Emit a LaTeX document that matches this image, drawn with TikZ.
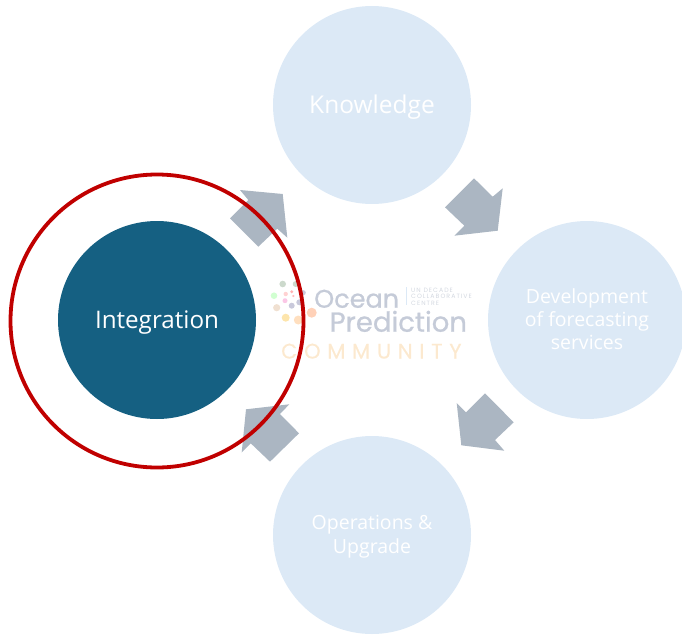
\documentclass[tikz,border=0pt]{standalone}
\usepackage{fontspec}
\setmainfont{Open Sans}
\newfontfamily\logofont{Poppins}
\definecolor{paleblue}{HTML}{DCE9F6}
\definecolor{deepblue}{HTML}{156082}
\definecolor{arrowgrey}{HTML}{ABB6C2}
\definecolor{ringred}{HTML}{C00000}
\definecolor{logogrey}{HTML}{C5CBD8}
\definecolor{logosmall}{HTML}{D3D8E0}
\definecolor{logoorange}{HTML}{FCE9CF}
\tikzset{
  x=1pt,y=-1pt,
  phase/.style={circle,minimum size=198pt,inner sep=0pt,fill=paleblue},
  phaselabel/.style={inner sep=0pt,text=white,align=center},
  blockarrow/.style={fill=arrowgrey,draw=none},
  dot/.style={fill=#1,draw=none},
  logotext/.style={inner sep=0pt,anchor=base west,text=logogrey},
  logosub/.style={inner sep=0pt,anchor=base west,text=logosmall,font=\logofont\fontsize{6.2}{6.5}\selectfont\addfontfeature{LetterSpace=17}},
}
\begin{document}
\begin{tikzpicture}
\useasboundingbox (0,0) rectangle (682,634);
% logo
\fill[dot=green!15!gray!35] (282.7,284) circle (3.3);
\fill[dot=green!15!gray!35] (295.7,284) circle (3);
\fill[dot=green!18!white] (274,295.7) circle (3.3);
\fill[dot=pink!70] (285.7,294) circle (2.2);
\fill[dot=red!30] (291.7,291.7) circle (1.6);
\fill[dot=red!25] (293.3,296) circle (1.2);
\fill[dot=magenta!22] (285,300.7) circle (2.5);
\fill[dot=blue!20!gray!35] (291.7,305.7) circle (3);
\fill[dot=blue!20!gray!35] (299.3,302.3) circle (3);
\fill[dot=blue!20!gray!35] (303.3,292.7) circle (2.5);
\fill[dot=brown!30!white!80] (276.7,307.7) circle (3.6);
\fill[dot=yellow!40!orange!30] (285.7,317.7) circle (4);
\fill[dot=orange!25] (298.3,320) circle (4.5);
\fill[dot=red!30!orange!28] (311.7,312.7) circle (5);
\node[logotext,font=\logofont\fontsize{25.5}{25}\selectfont\addfontfeature{FakeBold=0.8}] (ocean) at (314,307.7) {Ocean};
\node[logotext,font=\logofont\fontsize{27.5}{25}\selectfont\addfontfeature{FakeBold=0.8}] (prediction) at (329.5,331.7) {Prediction};
\draw[paleblue,line width=1] (406,287) -- (406,305);
\node[logosub] (un) at (411,292) {UN DECADE};
\node[logosub] (coll) at (411,298.5) {COLLABORATIVE};
\node[logosub] (cen) at (411,305) {CENTRE};
\node[inner sep=0pt,anchor=base west,text=logoorange,font=\logofont\fontsize{21}{20}\selectfont\addfontfeature{LetterSpace=32,FakeBold=0.5}] (comm) at (281,358.5) {COMMUNITY};
% phases
\node[phase] (know) at (372,105) {};
\node[phase] (dev) at (587,320) {};
\node[phase] (ops) at (372,535) {};
\node[phase,fill=deepblue] (integ) at (157,320) {};
\node[phaselabel,font=\fontsize{24.5}{30}\selectfont] (knowlabel) at ([yshift=-2pt]know.center) {Knowledge};
\node[phaselabel,font=\fontsize{19.5}{23}\selectfont] (devlabel) at ([yshift=1pt]dev.center) {Development\\of forecasting\\services};
\node[phaselabel,font=\fontsize{19.5}{24}\selectfont] (opslabel) at ([yshift=-2pt]ops.center) {Operations \&\\Upgrade};
\node[phaselabel,font=\fontsize{24.2}{30}\selectfont] (integlabel) at ([yshift=-3pt]integ.center) {Integration};
% block arrows
\fill[blockarrow] (240,190) -- (282.7,194) -- (287.3,237.7) -- (277.3,228.7) -- (258.3,246.7) -- (230,218.3) -- (248.3,200) -- cycle;
\fill[blockarrow] (474,178.3) -- (492.7,196.7) -- (502.7,188.3) -- (497.7,230.7) -- (454.3,235.7) -- (464.3,225.7) -- (445,207.3) -- cycle;
\fill[blockarrow] (485,393.3) -- (513.7,422.3) -- (495,440) -- (504.3,450.7) -- (461.3,445.3) -- (456.7,403) -- (466,412.3) -- cycle;
\fill[blockarrow] (289.3,404.3) -- (280,414) -- (299,433.3) -- (270,461.7) -- (250.7,443.3) -- (241.7,452.3) -- (246,409.3) -- cycle;
% ring
\draw[ringred,line width=3.8] (157,321) circle (146.5);
\end{tikzpicture}
\end{document}
